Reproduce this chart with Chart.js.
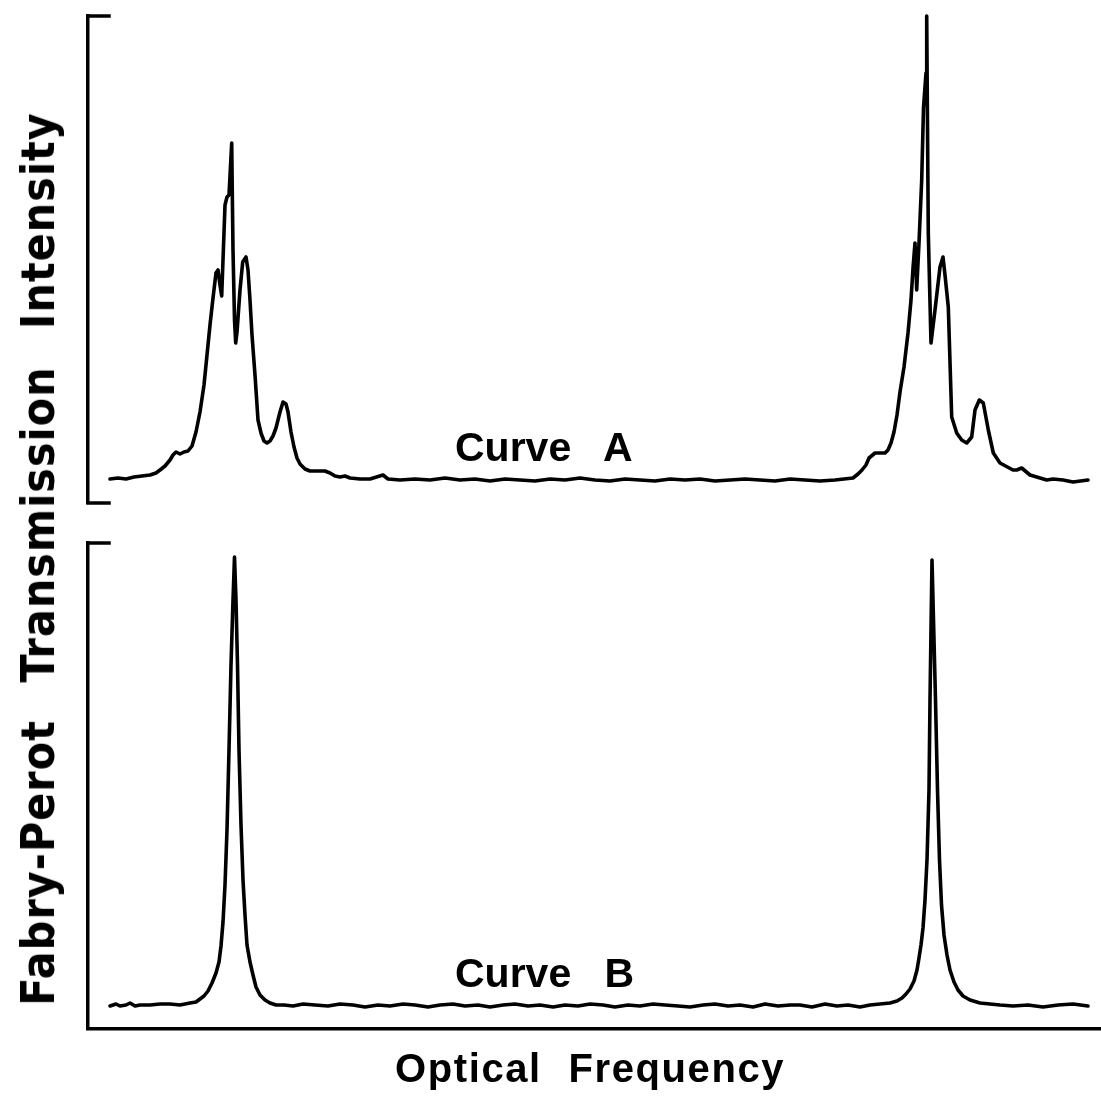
<!DOCTYPE html>
<html lang="en">
<head>
    <meta charset="UTF-8">
    <title>Fabry-Perot Transmission</title>
    <script src="https://cdn.jsdelivr.net/npm/chart.js"></script>
    <style>
        body {
            margin: 0;
            background: #fff;
            font-family: "Liberation Sans", Arial, sans-serif;
        }
        .page {
            position: relative;
            width: 1101px;
            height: 1108px;
            overflow: hidden;
        }
        .panel {
            position: absolute;
            left: 0;
        }
        .label {
            position: absolute;
            font-weight: bold;
            color: #000;
            white-space: nowrap;
            line-height: 1;
        }
        .curve-name {
            font-size: 41px;
            word-spacing: 22px;
        }
        #xTitle {
            left: 395px;
            top: 1048px;
            font-size: 40px;
            letter-spacing: 1.6px;
            word-spacing: 14px;
        }
        #yTitle {
            left: 38px;
            top: 559px;
            font-family: "Liberation Sans Narrow", "DejaVu Sans Condensed", sans-serif;
            font-size: 46px;
            letter-spacing: 1px;
            word-spacing: 22px;
            transform: translate(-50%, -50%) rotate(-90deg);
        }
    </style>
</head>
<body>
    <div class="page">
        <div class="panel" style="top:0; width:1101px; height:520px;">
            <canvas id="curveA"></canvas>
        </div>
        <div class="panel" style="top:520px; width:1101px; height:588px;">
            <canvas id="curveB"></canvas>
        </div>
        <div class="label curve-name" style="left:455px; top:427px;">Curve A</div>
        <div class="label curve-name" style="left:455px; top:953px;">Curve B</div>
        <div class="label" id="xTitle">Optical Frequency</div>
        <div class="label" id="yTitle">Fabry-Perot Transmission Intensity</div>
    </div>

    <script>
        // frequency axis in arbitrary units, intensity in arbitrary units (no tick labels on the original plot)
        const FREQ_MAX = 1013;
        const INTENSITY_A_MAX = 487;
        const INTENSITY_B_MAX = 486;

        // Curve A: multimode transmission, two orders of the interferometer
        const freqA = [
            22, 30, 38, 46, 54, 62, 68, 72, 77, 82, 85, 88, 92, 96, 100, 104, 108, 112, 116, 119,
            122, 125, 128, 130, 132, 133.7, 135, 137, 139, 141, 143.7, 145, 146.5, 147.7, 149, 152,
            154.7, 158, 160, 162, 164, 167, 170, 173, 176, 179, 182, 185, 188, 192, 195, 198, 200,
            203, 206, 209, 212, 217, 222, 230, 237, 242, 247, 252, 257, 262, 272, 282, 295, 300,
            312, 327, 342, 357, 372, 387, 402, 417, 432, 447, 462, 477, 492, 507, 522, 537, 552,
            567, 582, 597, 612, 627, 642, 657, 672, 687, 702, 717, 732, 747, 765, 770, 774, 778,
            781, 787, 792, 797, 800, 803, 806, 809, 812, 816, 820, 823, 825, 827, 828.7, 831,
            833.7, 835.5, 838, 838.7, 840.3, 843, 847, 852, 855, 857, 860.3, 863.7, 868.7, 873.7,
            878.7, 883.7, 887, 891.3, 895.3, 900.3, 905.3, 912, 925, 928.7, 933.7, 942, 948.7,
            958.7, 965, 975, 985, 1000
        ];
        const intensityA = [
            24, 25, 24, 26, 27, 28, 30, 33, 37, 43, 48, 51, 49, 51, 52, 57, 71, 91, 118, 148,
            178, 205, 230, 233, 218, 207, 243, 298, 306, 308, 360, 253, 183, 160, 171, 213,
            241, 246, 233, 203, 168, 128, 83, 70, 62, 60, 62, 67, 75, 91, 101, 99, 91,
            71, 56, 45, 39, 34, 32, 32, 32, 30, 27, 26, 27, 25, 24, 24, 28, 24,
            23, 24, 23, 25, 23, 24, 22, 24, 23, 22, 24, 23, 25, 23, 22, 24, 23,
            22, 24, 23, 24, 22, 23, 24, 23, 22, 24, 23, 22, 23, 25, 29, 33, 38,
            45, 50, 50, 50, 53, 60, 71, 88, 111, 136, 170, 203, 235, 260, 213, 260,
            323, 395, 430, 487, 270, 160, 193, 236, 246, 228, 196, 86, 70, 63,
            60, 66, 93, 103, 100, 73, 50, 40, 33, 33, 35, 28, 26, 23,
            24, 23, 21, 23, 23
        ];

        // Curve B: single-mode transmission, same two orders
        const freqB = [
            22, 28, 32, 38, 42, 47, 52, 62, 72, 82, 92, 102, 108, 112, 116, 120, 124, 128, 131,
            133, 135, 137, 139, 141, 143, 145, 146.5, 148, 149.5, 151, 153, 155, 157, 159, 162,
            165, 168, 172, 177, 182, 188, 196, 205, 215, 227, 240, 252, 265, 277, 290, 302, 315,
            327, 340, 352, 365, 377, 390, 402, 415, 427, 440, 452, 465, 477, 490, 502, 515, 527,
            540, 552, 565, 577, 590, 602, 615, 627, 640, 652, 665, 677, 690, 702, 712, 724, 737,
            749, 760, 772, 782, 792, 802, 809, 814, 818, 822, 826, 829, 831, 833, 835, 837, 839,
            841, 842, 843, 844, 845.5, 847.5, 849.5, 851.5, 853.5, 856, 859, 862, 866, 870, 875,
            882, 892, 912, 925, 940, 955, 970, 985, 1000
        ];
        const intensityB = [
            23, 25, 23, 24, 26, 23, 24, 24, 25, 25, 24, 26, 27, 30, 33, 38, 46, 56, 67,
            83, 107, 144, 199, 279, 364, 429, 472, 429, 364, 279, 204, 149, 114, 84, 67,
            54, 42, 34, 29, 26, 24, 24, 23, 25, 24, 23, 25, 24, 22, 24, 23, 25,
            24, 22, 24, 25, 23, 24, 22, 24, 25, 23, 24, 22, 24, 23, 25, 24, 22,
            24, 23, 25, 24, 23, 22, 24, 25, 23, 24, 22, 25, 23, 24, 24, 22, 25,
            23, 24, 22, 24, 25, 26, 28, 31, 35, 40, 48, 59, 71, 84, 101, 129,
            169, 239, 329, 399, 469, 409, 329, 239, 169, 124, 94, 74, 59, 47, 39,
            33, 29, 26, 24, 23, 24, 22, 24, 25, 23
        ];

        const ink = '#000';

        function toPoints(xs, ys) {
            return xs.map((x, i) => ({ x: x, y: ys[i] }));
        }

        // short horizontal end marks on the intensity axis
        const bracketPlugin = {
            id: 'bracket',
            afterDraw(chart, args, opts) {
                const ctx = chart.ctx;
                const y = chart.scales.y;
                const left = chart.chartArea.left;
                ctx.save();
                ctx.strokeStyle = ink;
                ctx.lineWidth = 3.5;
                ctx.lineCap = 'square';
                const ends = opts.bottom ? [y.max, y.min] : [y.max];
                ends.forEach(v => {
                    const py = y.getPixelForValue(v);
                    ctx.beginPath();
                    ctx.moveTo(left, py);
                    ctx.lineTo(left + opts.length, py);
                    ctx.stroke();
                });
                ctx.restore();
            }
        };

        function makeChart(canvasId, xs, ys, yMax, padding, showFreqAxis, bracketBottom) {
            const ctx = document.getElementById(canvasId).getContext('2d');
            return new Chart(ctx, {
                type: 'line',
                data: {
                    datasets: [{
                        data: toPoints(xs, ys),
                        borderColor: ink,
                        borderWidth: 3.6,
                        pointRadius: 0,
                        tension: 0,
                        borderJoinStyle: 'round',
                        borderCapStyle: 'round',
                        clip: false
                    }]
                },
                options: {
                    responsive: true,
                    maintainAspectRatio: false,
                    animation: false,
                    events: [],
                    layout: { padding: padding },
                    plugins: {
                        legend: { display: false },
                        tooltip: { enabled: false },
                        bracket: { length: 21, bottom: bracketBottom }
                    },
                    scales: {
                        x: {
                            type: 'linear',
                            min: 0,
                            max: FREQ_MAX,
                            display: showFreqAxis,
                            grid: { display: false },
                            ticks: { display: false },
                            border: { display: true, color: ink, width: 3.5 },
                            afterFit: s => { s.height = 0; }
                        },
                        y: {
                            min: 0,
                            max: yMax,
                            grid: { display: false },
                            ticks: { display: false },
                            border: { display: true, color: ink, width: 3.5 },
                            afterFit: s => { s.width = 0; }
                        }
                    }
                },
                plugins: [bracketPlugin]
            });
        }

        makeChart('curveA', freqA, intensityA, INTENSITY_A_MAX,
            { left: 88, top: 16, right: 0, bottom: 17 }, false, true);
        makeChart('curveB', freqB, intensityB, INTENSITY_B_MAX,
            { left: 88, top: 23, right: 0, bottom: 79 }, true, false);
    </script>
</body>
</html>
